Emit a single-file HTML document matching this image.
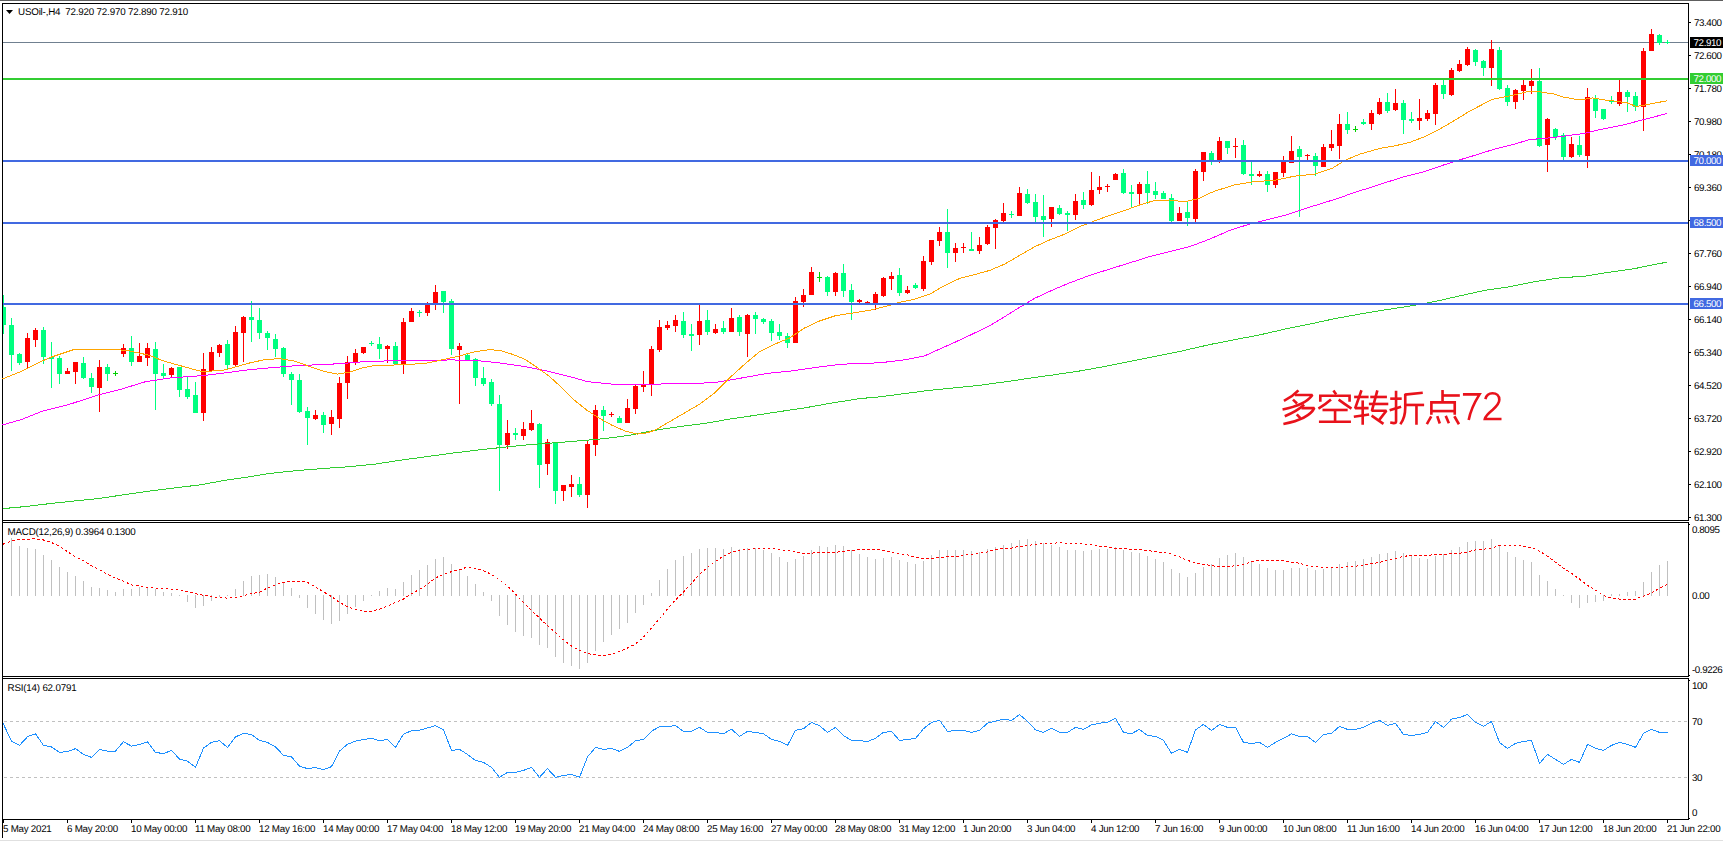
<!DOCTYPE html>
<html><head><meta charset="utf-8"><title>USOil H4</title>
<style>
html,body{margin:0;padding:0;background:#fff;}
body{width:1723px;height:841px;position:relative;overflow:hidden;font-family:"Liberation Sans",sans-serif;text-rendering:geometricPrecision;}
.t{position:absolute;font-size:9.8px;line-height:12px;height:12px;white-space:nowrap;color:#000;letter-spacing:-0.42px;}
.w{letter-spacing:-0.2px}.tm{letter-spacing:-0.27px}
.b{position:absolute;left:1690px;width:33px;height:10px;font-size:9.8px;line-height:10.5px;letter-spacing:-0.42px;text-indent:3.6px;white-space:nowrap;overflow:hidden;}
</style></head><body>
<svg width="1723" height="841" viewBox="0 0 1723 841" shape-rendering="crispEdges" style="position:absolute;left:0;top:0"><rect x="0" y="0" width="1723" height="1" fill="#5e5e5e"/>
<rect x="0" y="840" width="1723" height="1" fill="#e0e0e0"/>
<rect x="2" y="3" width="1687" height="1" fill="#000"/>
<rect x="2" y="3" width="1" height="835" fill="#000"/>
<rect x="2" y="520" width="1687" height="1" fill="#000"/>
<rect x="2" y="522" width="1687" height="1" fill="#000"/>
<rect x="2" y="676" width="1687" height="1" fill="#000"/>
<rect x="2" y="678" width="1687" height="1" fill="#000"/>
<rect x="2" y="819" width="1687" height="1" fill="#000"/>
<rect x="1688" y="3" width="1" height="518" fill="#000"/>
<rect x="1688" y="522" width="1" height="155" fill="#000"/>
<rect x="1688" y="678" width="1" height="142" fill="#000"/>
<rect x="3" y="42" width="1685" height="1" fill="#708090"/>
<rect x="3" y="295" width="1" height="39" fill="#00ff7f"/>
<rect x="3" y="307" width="3" height="18" fill="#00ff7f"/>
<rect x="11" y="318" width="1" height="53" fill="#00ff7f"/>
<rect x="9" y="325" width="5" height="30" fill="#00ff7f"/>
<rect x="19" y="353" width="1" height="12" fill="#00ff7f"/>
<rect x="17" y="354" width="5" height="9" fill="#00ff7f"/>
<rect x="27" y="333" width="1" height="35" fill="#ff0000"/>
<rect x="25" y="338" width="5" height="24" fill="#ff0000"/>
<rect x="35" y="328" width="1" height="19" fill="#ff0000"/>
<rect x="33" y="330" width="5" height="10" fill="#ff0000"/>
<rect x="43" y="327" width="1" height="37" fill="#00ff7f"/>
<rect x="41" y="330" width="5" height="27" fill="#00ff7f"/>
<rect x="51" y="342" width="1" height="46" fill="#00ff7f"/>
<rect x="49" y="357" width="5" height="2" fill="#00ff7f"/>
<rect x="59" y="356" width="1" height="28" fill="#00ff7f"/>
<rect x="57" y="358" width="5" height="16" fill="#00ff7f"/>
<rect x="67" y="368" width="1" height="6" fill="#ff0000"/>
<rect x="65" y="371" width="5" height="3" fill="#ff0000"/>
<rect x="75" y="362" width="1" height="22" fill="#ff0000"/>
<rect x="73" y="362" width="5" height="10" fill="#ff0000"/>
<rect x="83" y="357" width="1" height="22" fill="#00ff7f"/>
<rect x="81" y="363" width="5" height="15" fill="#00ff7f"/>
<rect x="91" y="373" width="1" height="20" fill="#00ff7f"/>
<rect x="89" y="378" width="5" height="9" fill="#00ff7f"/>
<rect x="99" y="360" width="1" height="52" fill="#ff0000"/>
<rect x="97" y="367" width="5" height="21" fill="#ff0000"/>
<rect x="107" y="364" width="1" height="17" fill="#00ff7f"/>
<rect x="105" y="367" width="5" height="7" fill="#00ff7f"/>
<rect x="115" y="371" width="1" height="5" fill="#00d000"/>
<rect x="113" y="373" width="5" height="1" fill="#00d000"/>
<rect x="123" y="344" width="1" height="13" fill="#ff0000"/>
<rect x="121" y="348" width="5" height="6" fill="#ff0000"/>
<rect x="131" y="336" width="1" height="30" fill="#00ff7f"/>
<rect x="129" y="348" width="5" height="14" fill="#00ff7f"/>
<rect x="139" y="343" width="1" height="19" fill="#ff0000"/>
<rect x="137" y="356" width="5" height="6" fill="#ff0000"/>
<rect x="147" y="343" width="1" height="23" fill="#ff0000"/>
<rect x="145" y="348" width="5" height="10" fill="#ff0000"/>
<rect x="155" y="342" width="1" height="68" fill="#00ff7f"/>
<rect x="153" y="349" width="5" height="25" fill="#00ff7f"/>
<rect x="163" y="364" width="1" height="14" fill="#00ff7f"/>
<rect x="161" y="373" width="5" height="3" fill="#00ff7f"/>
<rect x="171" y="367" width="1" height="10" fill="#ff0000"/>
<rect x="169" y="368" width="5" height="7" fill="#ff0000"/>
<rect x="179" y="367" width="1" height="30" fill="#00ff7f"/>
<rect x="177" y="367" width="5" height="23" fill="#00ff7f"/>
<rect x="187" y="377" width="1" height="22" fill="#00ff7f"/>
<rect x="185" y="389" width="5" height="8" fill="#00ff7f"/>
<rect x="195" y="382" width="1" height="31" fill="#00ff7f"/>
<rect x="193" y="395" width="5" height="18" fill="#00ff7f"/>
<rect x="203" y="353" width="1" height="68" fill="#ff0000"/>
<rect x="201" y="369" width="5" height="44" fill="#ff0000"/>
<rect x="211" y="347" width="1" height="25" fill="#ff0000"/>
<rect x="209" y="352" width="5" height="19" fill="#ff0000"/>
<rect x="219" y="344" width="1" height="13" fill="#ff0000"/>
<rect x="217" y="345" width="5" height="8" fill="#ff0000"/>
<rect x="227" y="340" width="1" height="29" fill="#00ff7f"/>
<rect x="225" y="344" width="5" height="21" fill="#00ff7f"/>
<rect x="235" y="326" width="1" height="40" fill="#ff0000"/>
<rect x="233" y="332" width="5" height="33" fill="#ff0000"/>
<rect x="243" y="316" width="1" height="46" fill="#ff0000"/>
<rect x="241" y="317" width="5" height="16" fill="#ff0000"/>
<rect x="251" y="301" width="1" height="41" fill="#00ff7f"/>
<rect x="249" y="317" width="5" height="3" fill="#00ff7f"/>
<rect x="259" y="308" width="1" height="31" fill="#00ff7f"/>
<rect x="257" y="320" width="5" height="13" fill="#00ff7f"/>
<rect x="267" y="331" width="1" height="19" fill="#00ff7f"/>
<rect x="265" y="333" width="5" height="5" fill="#00ff7f"/>
<rect x="275" y="334" width="1" height="23" fill="#00ff7f"/>
<rect x="273" y="339" width="5" height="10" fill="#00ff7f"/>
<rect x="283" y="347" width="1" height="30" fill="#00ff7f"/>
<rect x="281" y="348" width="5" height="26" fill="#00ff7f"/>
<rect x="291" y="372" width="1" height="33" fill="#00ff7f"/>
<rect x="289" y="374" width="5" height="6" fill="#00ff7f"/>
<rect x="299" y="374" width="1" height="39" fill="#00ff7f"/>
<rect x="297" y="380" width="5" height="32" fill="#00ff7f"/>
<rect x="307" y="407" width="1" height="38" fill="#00ff7f"/>
<rect x="305" y="411" width="5" height="7" fill="#00ff7f"/>
<rect x="315" y="410" width="1" height="10" fill="#ff0000"/>
<rect x="313" y="415" width="5" height="4" fill="#ff0000"/>
<rect x="323" y="412" width="1" height="21" fill="#00ff7f"/>
<rect x="321" y="415" width="5" height="10" fill="#00ff7f"/>
<rect x="331" y="410" width="1" height="25" fill="#ff0000"/>
<rect x="329" y="417" width="5" height="7" fill="#ff0000"/>
<rect x="339" y="377" width="1" height="51" fill="#ff0000"/>
<rect x="337" y="383" width="5" height="36" fill="#ff0000"/>
<rect x="347" y="356" width="1" height="43" fill="#ff0000"/>
<rect x="345" y="362" width="5" height="21" fill="#ff0000"/>
<rect x="355" y="349" width="1" height="16" fill="#ff0000"/>
<rect x="353" y="353" width="5" height="9" fill="#ff0000"/>
<rect x="363" y="347" width="1" height="7" fill="#ff0000"/>
<rect x="361" y="347" width="5" height="6" fill="#ff0000"/>
<rect x="371" y="341" width="1" height="5" fill="#00ff7f"/>
<rect x="369" y="343" width="5" height="1" fill="#00ff7f"/>
<rect x="379" y="337" width="1" height="22" fill="#00ff7f"/>
<rect x="377" y="344" width="5" height="5" fill="#00ff7f"/>
<rect x="387" y="345" width="1" height="18" fill="#ff0000"/>
<rect x="385" y="346" width="5" height="3" fill="#ff0000"/>
<rect x="395" y="342" width="1" height="23" fill="#00ff7f"/>
<rect x="393" y="346" width="5" height="18" fill="#00ff7f"/>
<rect x="403" y="318" width="1" height="56" fill="#ff0000"/>
<rect x="401" y="322" width="5" height="42" fill="#ff0000"/>
<rect x="411" y="308" width="1" height="14" fill="#ff0000"/>
<rect x="409" y="311" width="5" height="11" fill="#ff0000"/>
<rect x="419" y="310" width="1" height="7" fill="#00ff7f"/>
<rect x="417" y="312" width="5" height="1" fill="#00ff7f"/>
<rect x="427" y="302" width="1" height="14" fill="#ff0000"/>
<rect x="425" y="305" width="5" height="8" fill="#ff0000"/>
<rect x="435" y="285" width="1" height="25" fill="#ff0000"/>
<rect x="433" y="292" width="5" height="11" fill="#ff0000"/>
<rect x="443" y="291" width="1" height="22" fill="#00ff7f"/>
<rect x="441" y="291" width="5" height="11" fill="#00ff7f"/>
<rect x="451" y="299" width="1" height="56" fill="#00ff7f"/>
<rect x="449" y="301" width="5" height="48" fill="#00ff7f"/>
<rect x="459" y="343" width="1" height="61" fill="#ff0000"/>
<rect x="457" y="346" width="5" height="4" fill="#ff0000"/>
<rect x="467" y="354" width="1" height="7" fill="#00ff7f"/>
<rect x="465" y="355" width="5" height="6" fill="#00ff7f"/>
<rect x="475" y="358" width="1" height="28" fill="#00ff7f"/>
<rect x="473" y="359" width="5" height="19" fill="#00ff7f"/>
<rect x="483" y="367" width="1" height="19" fill="#00ff7f"/>
<rect x="481" y="378" width="5" height="6" fill="#00ff7f"/>
<rect x="491" y="379" width="1" height="27" fill="#00ff7f"/>
<rect x="489" y="382" width="5" height="22" fill="#00ff7f"/>
<rect x="499" y="395" width="1" height="96" fill="#00ff7f"/>
<rect x="497" y="404" width="5" height="41" fill="#00ff7f"/>
<rect x="507" y="420" width="1" height="29" fill="#ff0000"/>
<rect x="505" y="433" width="5" height="12" fill="#ff0000"/>
<rect x="515" y="428" width="1" height="12" fill="#00ff7f"/>
<rect x="513" y="433" width="5" height="2" fill="#00ff7f"/>
<rect x="523" y="422" width="1" height="18" fill="#ff0000"/>
<rect x="521" y="429" width="5" height="7" fill="#ff0000"/>
<rect x="531" y="410" width="1" height="21" fill="#ff0000"/>
<rect x="529" y="423" width="5" height="7" fill="#ff0000"/>
<rect x="539" y="423" width="1" height="65" fill="#00ff7f"/>
<rect x="537" y="424" width="5" height="41" fill="#00ff7f"/>
<rect x="547" y="439" width="1" height="36" fill="#ff0000"/>
<rect x="545" y="442" width="5" height="22" fill="#ff0000"/>
<rect x="555" y="442" width="1" height="62" fill="#00ff7f"/>
<rect x="553" y="442" width="5" height="49" fill="#00ff7f"/>
<rect x="563" y="485" width="1" height="16" fill="#ff0000"/>
<rect x="561" y="485" width="5" height="6" fill="#ff0000"/>
<rect x="571" y="475" width="1" height="22" fill="#ff0000"/>
<rect x="569" y="484" width="5" height="3" fill="#ff0000"/>
<rect x="579" y="477" width="1" height="20" fill="#00ff7f"/>
<rect x="577" y="484" width="5" height="11" fill="#00ff7f"/>
<rect x="587" y="441" width="1" height="67" fill="#ff0000"/>
<rect x="585" y="444" width="5" height="51" fill="#ff0000"/>
<rect x="595" y="405" width="1" height="51" fill="#ff0000"/>
<rect x="593" y="410" width="5" height="35" fill="#ff0000"/>
<rect x="603" y="406" width="1" height="25" fill="#00ff7f"/>
<rect x="601" y="410" width="5" height="6" fill="#00ff7f"/>
<rect x="611" y="412" width="1" height="5" fill="#ff0000"/>
<rect x="609" y="414" width="5" height="1" fill="#ff0000"/>
<rect x="619" y="416" width="1" height="7" fill="#00ff7f"/>
<rect x="617" y="418" width="5" height="5" fill="#00ff7f"/>
<rect x="627" y="399" width="1" height="24" fill="#ff0000"/>
<rect x="625" y="408" width="5" height="15" fill="#ff0000"/>
<rect x="635" y="385" width="1" height="29" fill="#ff0000"/>
<rect x="633" y="386" width="5" height="23" fill="#ff0000"/>
<rect x="643" y="371" width="1" height="21" fill="#ff0000"/>
<rect x="641" y="384" width="5" height="3" fill="#ff0000"/>
<rect x="651" y="346" width="1" height="50" fill="#ff0000"/>
<rect x="649" y="349" width="5" height="36" fill="#ff0000"/>
<rect x="659" y="320" width="1" height="32" fill="#ff0000"/>
<rect x="657" y="327" width="5" height="23" fill="#ff0000"/>
<rect x="667" y="321" width="1" height="9" fill="#ff0000"/>
<rect x="665" y="325" width="5" height="3" fill="#ff0000"/>
<rect x="675" y="315" width="1" height="17" fill="#ff0000"/>
<rect x="673" y="320" width="5" height="6" fill="#ff0000"/>
<rect x="683" y="312" width="1" height="26" fill="#00ff7f"/>
<rect x="681" y="321" width="5" height="14" fill="#00ff7f"/>
<rect x="691" y="324" width="1" height="27" fill="#00ff7f"/>
<rect x="689" y="334" width="5" height="2" fill="#00ff7f"/>
<rect x="699" y="304" width="1" height="41" fill="#ff0000"/>
<rect x="697" y="321" width="5" height="14" fill="#ff0000"/>
<rect x="707" y="310" width="1" height="25" fill="#00ff7f"/>
<rect x="705" y="320" width="5" height="12" fill="#00ff7f"/>
<rect x="715" y="324" width="1" height="10" fill="#ff0000"/>
<rect x="713" y="329" width="5" height="4" fill="#ff0000"/>
<rect x="723" y="321" width="1" height="13" fill="#00ff7f"/>
<rect x="721" y="328" width="5" height="4" fill="#00ff7f"/>
<rect x="731" y="308" width="1" height="24" fill="#ff0000"/>
<rect x="729" y="318" width="5" height="14" fill="#ff0000"/>
<rect x="739" y="315" width="1" height="21" fill="#00ff7f"/>
<rect x="737" y="317" width="5" height="15" fill="#00ff7f"/>
<rect x="747" y="314" width="1" height="43" fill="#ff0000"/>
<rect x="745" y="315" width="5" height="19" fill="#ff0000"/>
<rect x="755" y="312" width="1" height="22" fill="#00ff7f"/>
<rect x="753" y="315" width="5" height="4" fill="#00ff7f"/>
<rect x="763" y="318" width="1" height="6" fill="#00ff7f"/>
<rect x="761" y="319" width="5" height="3" fill="#00ff7f"/>
<rect x="771" y="319" width="1" height="22" fill="#00ff7f"/>
<rect x="769" y="321" width="5" height="12" fill="#00ff7f"/>
<rect x="779" y="324" width="1" height="16" fill="#00ff7f"/>
<rect x="777" y="332" width="5" height="4" fill="#00ff7f"/>
<rect x="787" y="333" width="1" height="15" fill="#00ff7f"/>
<rect x="785" y="336" width="5" height="7" fill="#00ff7f"/>
<rect x="795" y="297" width="1" height="46" fill="#ff0000"/>
<rect x="793" y="301" width="5" height="42" fill="#ff0000"/>
<rect x="803" y="289" width="1" height="18" fill="#ff0000"/>
<rect x="801" y="295" width="5" height="7" fill="#ff0000"/>
<rect x="811" y="267" width="1" height="28" fill="#ff0000"/>
<rect x="809" y="272" width="5" height="23" fill="#ff0000"/>
<rect x="819" y="272" width="1" height="10" fill="#00d000"/>
<rect x="817" y="277" width="5" height="1" fill="#00d000"/>
<rect x="827" y="276" width="1" height="20" fill="#00ff7f"/>
<rect x="825" y="277" width="5" height="15" fill="#00ff7f"/>
<rect x="835" y="272" width="1" height="24" fill="#ff0000"/>
<rect x="833" y="273" width="5" height="19" fill="#ff0000"/>
<rect x="843" y="264" width="1" height="33" fill="#00ff7f"/>
<rect x="841" y="273" width="5" height="18" fill="#00ff7f"/>
<rect x="851" y="284" width="1" height="36" fill="#00ff7f"/>
<rect x="849" y="290" width="5" height="12" fill="#00ff7f"/>
<rect x="859" y="299" width="1" height="4" fill="#ff0000"/>
<rect x="857" y="300" width="5" height="2" fill="#ff0000"/>
<rect x="867" y="301" width="1" height="2" fill="#ff0000"/>
<rect x="865" y="302" width="5" height="1" fill="#ff0000"/>
<rect x="875" y="292" width="1" height="18" fill="#ff0000"/>
<rect x="873" y="294" width="5" height="10" fill="#ff0000"/>
<rect x="883" y="277" width="1" height="20" fill="#ff0000"/>
<rect x="881" y="278" width="5" height="18" fill="#ff0000"/>
<rect x="891" y="272" width="1" height="18" fill="#ff0000"/>
<rect x="889" y="276" width="5" height="3" fill="#ff0000"/>
<rect x="899" y="268" width="1" height="28" fill="#00ff7f"/>
<rect x="897" y="275" width="5" height="18" fill="#00ff7f"/>
<rect x="907" y="286" width="1" height="8" fill="#ff0000"/>
<rect x="905" y="290" width="5" height="3" fill="#ff0000"/>
<rect x="915" y="283" width="1" height="6" fill="#00ff7f"/>
<rect x="913" y="285" width="5" height="3" fill="#00ff7f"/>
<rect x="923" y="256" width="1" height="35" fill="#ff0000"/>
<rect x="921" y="261" width="5" height="28" fill="#ff0000"/>
<rect x="931" y="240" width="1" height="25" fill="#ff0000"/>
<rect x="929" y="240" width="5" height="22" fill="#ff0000"/>
<rect x="939" y="227" width="1" height="19" fill="#ff0000"/>
<rect x="937" y="232" width="5" height="9" fill="#ff0000"/>
<rect x="947" y="209" width="1" height="59" fill="#00ff7f"/>
<rect x="945" y="232" width="5" height="21" fill="#00ff7f"/>
<rect x="955" y="243" width="1" height="19" fill="#ff0000"/>
<rect x="953" y="248" width="5" height="5" fill="#ff0000"/>
<rect x="963" y="243" width="1" height="10" fill="#ff0000"/>
<rect x="961" y="247" width="5" height="1" fill="#ff0000"/>
<rect x="971" y="232" width="1" height="19" fill="#00ff7f"/>
<rect x="969" y="249" width="5" height="2" fill="#00ff7f"/>
<rect x="979" y="237" width="1" height="17" fill="#ff0000"/>
<rect x="977" y="245" width="5" height="6" fill="#ff0000"/>
<rect x="987" y="225" width="1" height="20" fill="#ff0000"/>
<rect x="985" y="227" width="5" height="17" fill="#ff0000"/>
<rect x="995" y="219" width="1" height="30" fill="#ff0000"/>
<rect x="993" y="220" width="5" height="8" fill="#ff0000"/>
<rect x="1003" y="203" width="1" height="19" fill="#ff0000"/>
<rect x="1001" y="213" width="5" height="8" fill="#ff0000"/>
<rect x="1011" y="211" width="1" height="7" fill="#00ff7f"/>
<rect x="1009" y="214" width="5" height="1" fill="#00ff7f"/>
<rect x="1019" y="187" width="1" height="29" fill="#ff0000"/>
<rect x="1017" y="193" width="5" height="23" fill="#ff0000"/>
<rect x="1027" y="189" width="1" height="15" fill="#00ff7f"/>
<rect x="1025" y="194" width="5" height="9" fill="#00ff7f"/>
<rect x="1035" y="194" width="1" height="28" fill="#00ff7f"/>
<rect x="1033" y="202" width="5" height="15" fill="#00ff7f"/>
<rect x="1043" y="195" width="1" height="42" fill="#00ff7f"/>
<rect x="1041" y="216" width="5" height="4" fill="#00ff7f"/>
<rect x="1051" y="207" width="1" height="20" fill="#ff0000"/>
<rect x="1049" y="207" width="5" height="12" fill="#ff0000"/>
<rect x="1059" y="205" width="1" height="10" fill="#00ff7f"/>
<rect x="1057" y="208" width="5" height="6" fill="#00ff7f"/>
<rect x="1067" y="211" width="1" height="20" fill="#00ff7f"/>
<rect x="1065" y="213" width="5" height="2" fill="#00ff7f"/>
<rect x="1075" y="194" width="1" height="26" fill="#ff0000"/>
<rect x="1073" y="201" width="5" height="14" fill="#ff0000"/>
<rect x="1083" y="192" width="1" height="17" fill="#00ff7f"/>
<rect x="1081" y="200" width="5" height="5" fill="#00ff7f"/>
<rect x="1091" y="172" width="1" height="34" fill="#ff0000"/>
<rect x="1089" y="190" width="5" height="15" fill="#ff0000"/>
<rect x="1099" y="176" width="1" height="18" fill="#ff0000"/>
<rect x="1097" y="187" width="5" height="3" fill="#ff0000"/>
<rect x="1107" y="184" width="1" height="8" fill="#ff0000"/>
<rect x="1105" y="186" width="5" height="1" fill="#ff0000"/>
<rect x="1115" y="173" width="1" height="7" fill="#ff0000"/>
<rect x="1113" y="174" width="5" height="6" fill="#ff0000"/>
<rect x="1123" y="169" width="1" height="25" fill="#00ff7f"/>
<rect x="1121" y="173" width="5" height="20" fill="#00ff7f"/>
<rect x="1131" y="185" width="1" height="22" fill="#00ff7f"/>
<rect x="1129" y="192" width="5" height="2" fill="#00ff7f"/>
<rect x="1139" y="182" width="1" height="22" fill="#ff0000"/>
<rect x="1137" y="184" width="5" height="10" fill="#ff0000"/>
<rect x="1147" y="171" width="1" height="33" fill="#00ff7f"/>
<rect x="1145" y="184" width="5" height="9" fill="#00ff7f"/>
<rect x="1155" y="182" width="1" height="17" fill="#00ff7f"/>
<rect x="1153" y="191" width="5" height="4" fill="#00ff7f"/>
<rect x="1163" y="191" width="1" height="8" fill="#00ff7f"/>
<rect x="1161" y="193" width="5" height="6" fill="#00ff7f"/>
<rect x="1171" y="194" width="1" height="28" fill="#00ff7f"/>
<rect x="1169" y="198" width="5" height="23" fill="#00ff7f"/>
<rect x="1179" y="207" width="1" height="14" fill="#ff0000"/>
<rect x="1177" y="213" width="5" height="8" fill="#ff0000"/>
<rect x="1187" y="202" width="1" height="24" fill="#00ff7f"/>
<rect x="1185" y="212" width="5" height="6" fill="#00ff7f"/>
<rect x="1195" y="169" width="1" height="53" fill="#ff0000"/>
<rect x="1193" y="171" width="5" height="48" fill="#ff0000"/>
<rect x="1203" y="152" width="1" height="29" fill="#ff0000"/>
<rect x="1201" y="152" width="5" height="20" fill="#ff0000"/>
<rect x="1211" y="151" width="1" height="14" fill="#00ff7f"/>
<rect x="1209" y="153" width="5" height="9" fill="#00ff7f"/>
<rect x="1219" y="137" width="1" height="26" fill="#ff0000"/>
<rect x="1217" y="141" width="5" height="20" fill="#ff0000"/>
<rect x="1227" y="141" width="1" height="13" fill="#00ff7f"/>
<rect x="1225" y="141" width="5" height="7" fill="#00ff7f"/>
<rect x="1235" y="138" width="1" height="20" fill="#ff0000"/>
<rect x="1233" y="146" width="5" height="1" fill="#ff0000"/>
<rect x="1243" y="140" width="1" height="35" fill="#00ff7f"/>
<rect x="1241" y="145" width="5" height="29" fill="#00ff7f"/>
<rect x="1251" y="162" width="1" height="23" fill="#00ff7f"/>
<rect x="1249" y="174" width="5" height="2" fill="#00ff7f"/>
<rect x="1259" y="171" width="1" height="6" fill="#ff0000"/>
<rect x="1257" y="174" width="5" height="2" fill="#ff0000"/>
<rect x="1267" y="171" width="1" height="21" fill="#00ff7f"/>
<rect x="1265" y="174" width="5" height="11" fill="#00ff7f"/>
<rect x="1275" y="172" width="1" height="16" fill="#ff0000"/>
<rect x="1273" y="172" width="5" height="13" fill="#ff0000"/>
<rect x="1283" y="156" width="1" height="21" fill="#ff0000"/>
<rect x="1281" y="162" width="5" height="11" fill="#ff0000"/>
<rect x="1291" y="136" width="1" height="27" fill="#ff0000"/>
<rect x="1289" y="151" width="5" height="12" fill="#ff0000"/>
<rect x="1299" y="146" width="1" height="71" fill="#00ff7f"/>
<rect x="1297" y="149" width="5" height="8" fill="#00ff7f"/>
<rect x="1307" y="154" width="1" height="6" fill="#ff0000"/>
<rect x="1305" y="155" width="5" height="1" fill="#ff0000"/>
<rect x="1315" y="153" width="1" height="23" fill="#00ff7f"/>
<rect x="1313" y="156" width="5" height="10" fill="#00ff7f"/>
<rect x="1323" y="144" width="1" height="23" fill="#ff0000"/>
<rect x="1321" y="147" width="5" height="20" fill="#ff0000"/>
<rect x="1331" y="130" width="1" height="21" fill="#ff0000"/>
<rect x="1329" y="144" width="5" height="4" fill="#ff0000"/>
<rect x="1339" y="114" width="1" height="45" fill="#ff0000"/>
<rect x="1337" y="124" width="5" height="22" fill="#ff0000"/>
<rect x="1347" y="112" width="1" height="22" fill="#00ff7f"/>
<rect x="1345" y="124" width="5" height="6" fill="#00ff7f"/>
<rect x="1355" y="126" width="1" height="6" fill="#00d000"/>
<rect x="1353" y="129" width="5" height="1" fill="#00d000"/>
<rect x="1363" y="119" width="1" height="6" fill="#00ff7f"/>
<rect x="1361" y="122" width="5" height="2" fill="#00ff7f"/>
<rect x="1371" y="110" width="1" height="20" fill="#ff0000"/>
<rect x="1369" y="113" width="5" height="11" fill="#ff0000"/>
<rect x="1379" y="98" width="1" height="17" fill="#ff0000"/>
<rect x="1377" y="102" width="5" height="12" fill="#ff0000"/>
<rect x="1387" y="93" width="1" height="20" fill="#00ff7f"/>
<rect x="1385" y="102" width="5" height="9" fill="#00ff7f"/>
<rect x="1395" y="89" width="1" height="22" fill="#ff0000"/>
<rect x="1393" y="103" width="5" height="7" fill="#ff0000"/>
<rect x="1403" y="100" width="1" height="34" fill="#00ff7f"/>
<rect x="1401" y="103" width="5" height="17" fill="#00ff7f"/>
<rect x="1411" y="112" width="1" height="11" fill="#00ff7f"/>
<rect x="1409" y="119" width="5" height="2" fill="#00ff7f"/>
<rect x="1419" y="99" width="1" height="31" fill="#ff0000"/>
<rect x="1417" y="118" width="5" height="3" fill="#ff0000"/>
<rect x="1427" y="110" width="1" height="11" fill="#ff0000"/>
<rect x="1425" y="113" width="5" height="6" fill="#ff0000"/>
<rect x="1435" y="83" width="1" height="42" fill="#ff0000"/>
<rect x="1433" y="85" width="5" height="29" fill="#ff0000"/>
<rect x="1443" y="79" width="1" height="20" fill="#00ff7f"/>
<rect x="1441" y="85" width="5" height="9" fill="#00ff7f"/>
<rect x="1451" y="68" width="1" height="28" fill="#ff0000"/>
<rect x="1449" y="70" width="5" height="25" fill="#ff0000"/>
<rect x="1459" y="60" width="1" height="12" fill="#ff0000"/>
<rect x="1457" y="64" width="5" height="7" fill="#ff0000"/>
<rect x="1467" y="47" width="1" height="19" fill="#ff0000"/>
<rect x="1465" y="49" width="5" height="16" fill="#ff0000"/>
<rect x="1475" y="49" width="1" height="17" fill="#00ff7f"/>
<rect x="1473" y="50" width="5" height="12" fill="#00ff7f"/>
<rect x="1483" y="60" width="1" height="16" fill="#00ff7f"/>
<rect x="1481" y="61" width="5" height="7" fill="#00ff7f"/>
<rect x="1491" y="40" width="1" height="46" fill="#ff0000"/>
<rect x="1489" y="49" width="5" height="19" fill="#ff0000"/>
<rect x="1499" y="47" width="1" height="43" fill="#00ff7f"/>
<rect x="1497" y="50" width="5" height="39" fill="#00ff7f"/>
<rect x="1507" y="85" width="1" height="21" fill="#00ff7f"/>
<rect x="1505" y="88" width="5" height="14" fill="#00ff7f"/>
<rect x="1515" y="89" width="1" height="20" fill="#ff0000"/>
<rect x="1513" y="90" width="5" height="12" fill="#ff0000"/>
<rect x="1523" y="79" width="1" height="21" fill="#ff0000"/>
<rect x="1521" y="85" width="5" height="6" fill="#ff0000"/>
<rect x="1531" y="69" width="1" height="25" fill="#ff0000"/>
<rect x="1529" y="81" width="5" height="5" fill="#ff0000"/>
<rect x="1539" y="68" width="1" height="79" fill="#00ff7f"/>
<rect x="1537" y="81" width="5" height="65" fill="#00ff7f"/>
<rect x="1547" y="118" width="1" height="54" fill="#ff0000"/>
<rect x="1545" y="119" width="5" height="26" fill="#ff0000"/>
<rect x="1555" y="128" width="1" height="12" fill="#00ff7f"/>
<rect x="1553" y="129" width="5" height="8" fill="#00ff7f"/>
<rect x="1563" y="133" width="1" height="28" fill="#00ff7f"/>
<rect x="1561" y="135" width="5" height="22" fill="#00ff7f"/>
<rect x="1571" y="137" width="1" height="21" fill="#ff0000"/>
<rect x="1569" y="144" width="5" height="13" fill="#ff0000"/>
<rect x="1579" y="136" width="1" height="21" fill="#00ff7f"/>
<rect x="1577" y="145" width="5" height="10" fill="#00ff7f"/>
<rect x="1587" y="88" width="1" height="80" fill="#ff0000"/>
<rect x="1585" y="97" width="5" height="59" fill="#ff0000"/>
<rect x="1595" y="95" width="1" height="23" fill="#00ff7f"/>
<rect x="1593" y="98" width="5" height="13" fill="#00ff7f"/>
<rect x="1603" y="109" width="1" height="11" fill="#00ff7f"/>
<rect x="1601" y="109" width="5" height="10" fill="#00ff7f"/>
<rect x="1611" y="96" width="1" height="8" fill="#00ff7f"/>
<rect x="1609" y="100" width="5" height="2" fill="#00ff7f"/>
<rect x="1619" y="80" width="1" height="26" fill="#ff0000"/>
<rect x="1617" y="92" width="5" height="12" fill="#ff0000"/>
<rect x="1627" y="90" width="1" height="22" fill="#00ff7f"/>
<rect x="1625" y="92" width="5" height="5" fill="#00ff7f"/>
<rect x="1635" y="92" width="1" height="19" fill="#00ff7f"/>
<rect x="1633" y="96" width="5" height="11" fill="#00ff7f"/>
<rect x="1643" y="48" width="1" height="83" fill="#ff0000"/>
<rect x="1641" y="51" width="5" height="56" fill="#ff0000"/>
<rect x="1651" y="29" width="1" height="22" fill="#ff0000"/>
<rect x="1649" y="34" width="5" height="17" fill="#ff0000"/>
<rect x="1659" y="34" width="1" height="11" fill="#00ff7f"/>
<rect x="1657" y="35" width="5" height="8" fill="#00ff7f"/>
<rect x="1667" y="40" width="1" height="4" fill="#00ff7f"/>
<rect x="1665" y="42" width="5" height="1" fill="#00ff7f"/>
<polyline points="3.0,508.6 25.0,506.6 49.9,503.6 74.9,500.9 99.8,498.4 124.8,494.6 149.7,491.1 174.7,487.9 199.7,484.9 224.6,480.4 249.6,476.7 264.5,474.2 274.5,472.9 299.5,470.4 324.4,468.4 349.4,466.7 374.3,464.2 399.3,460.4 429.7,456.2 455.0,452.8 479.9,449.8 504.9,447.1 529.9,444.6 554.8,442.8 579.8,440.8 604.8,438.6 629.8,435.3 654.7,430.3 679.7,426.6 704.7,423.4 729.6,419.1 754.6,415.4 779.6,411.6 804.5,407.9 829.5,403.4 860.0,398.6 879.9,396.8 929.9,390.3 979.8,385.3 1014.7,380.5 1029.7,378.2 1054.7,374.7 1079.6,371.0 1104.6,366.5 1129.6,361.5 1154.5,356.5 1179.5,351.5 1210.0,344.5 1260.0,334.8 1285.0,329.1 1309.9,324.1 1334.9,318.6 1359.8,314.1 1384.8,309.9 1409.7,306.1 1434.7,301.6 1459.7,295.9 1484.6,290.4 1509.6,286.7 1534.5,281.7 1559.5,277.9 1584.4,276.2 1609.4,272.2 1634.3,268.7 1649.3,265.5 1666.8,262.2" fill="none" stroke="#32cd32" stroke-width="1" />
<polyline points="2.6,424.9 21.4,419.6 42.8,411.0 68.5,404.6 98.4,395.0 119.8,389.6 145.5,381.7 171.2,377.8 192.6,376.3 205.0,375.4 225.0,372.9 249.9,369.6 274.9,367.4 299.9,365.4 324.8,364.6 349.8,362.9 369.8,361.1 399.8,360.9 424.7,360.9 449.7,359.9 474.7,360.4 499.6,362.9 524.6,366.6 549.6,371.6 574.5,377.9 587.0,381.6 599.5,382.9 612.0,384.1 630.0,384.9 642.2,384.9 667.2,383.7 692.2,383.7 717.1,382.2 742.1,377.9 767.1,373.4 792.0,370.9 817.0,367.2 842.0,364.2 879.9,362.8 904.8,359.8 924.8,355.8 939.8,349.0 954.8,342.3 969.8,335.3 989.7,325.8 1004.7,316.6 1019.7,307.3 1034.7,298.3 1054.7,289.1 1069.6,282.9 1089.6,275.4 1109.6,269.1 1129.6,262.9 1149.5,256.6 1169.5,251.6 1190.0,246.5 1210.0,239.0 1229.9,230.3 1249.9,224.0 1269.9,219.0 1284.9,215.3 1299.8,210.3 1319.8,204.0 1339.8,197.8 1354.8,192.3 1369.8,187.8 1384.7,182.8 1404.7,176.6 1424.7,171.6 1444.7,164.6 1459.6,159.9 1474.6,155.4 1494.6,149.1 1514.6,144.1 1529.6,139.6 1549.5,137.9 1569.5,135.4 1584.5,133.4 1600.0,129.6 1621.0,125.5 1643.5,119.7 1667.0,113.5" fill="none" stroke="#ff00ff" stroke-width="1" />
<polyline points="2.6,378.9 21.4,371.4 42.8,360.7 51.3,357.1 73.8,349.6 94.1,349.0 111.3,349.0 128.4,350.7 149.8,355.4 162.6,360.7 181.9,366.1 201.1,371.4 205.0,371.6 225.0,369.9 249.9,362.9 264.9,359.6 279.9,358.6 294.9,361.1 309.9,366.6 324.8,371.6 337.3,374.1 349.8,372.1 362.3,367.9 374.8,365.4 399.8,364.9 424.7,363.4 439.7,360.4 459.7,355.9 474.7,351.7 489.6,349.7 499.6,350.4 512.1,354.2 524.6,359.1 537.1,367.4 549.6,376.6 562.0,387.9 574.5,400.3 587.0,410.3 599.5,418.3 612.0,425.3 624.5,430.8 629.8,432.1 637.2,434.1 647.2,432.8 654.7,430.3 669.7,421.6 684.7,412.9 699.7,404.1 714.6,392.9 729.6,377.9 744.6,364.2 759.6,351.7 774.6,344.2 789.6,338.0 804.5,328.0 819.5,321.0 834.5,316.0 849.5,313.5 869.9,310.3 884.9,306.6 899.9,302.3 914.8,299.1 929.8,294.1 944.8,285.4 959.8,278.4 974.8,274.6 989.7,270.4 1004.7,264.1 1019.7,255.4 1034.7,246.7 1049.7,239.9 1064.6,234.2 1079.6,226.7 1094.6,220.9 1109.6,215.4 1124.6,210.5 1139.6,205.0 1154.5,200.5 1169.5,200.0 1184.5,201.7 1199.5,198.5 1205.0,195.3 1214.9,191.1 1234.9,184.8 1254.9,181.6 1274.9,180.3 1294.8,176.1 1314.8,174.1 1332.3,168.3 1344.8,160.4 1359.8,154.1 1379.7,148.4 1394.7,145.9 1409.7,142.4 1424.7,136.6 1439.7,129.1 1454.6,120.4 1469.6,111.2 1492.5,99.2 1505.0,96.9 1517.5,94.2 1529.9,91.0 1534.9,91.0 1544.9,92.7 1554.9,94.2 1562.4,96.9 1579.9,100.0 1592.4,97.9 1604.8,100.0 1617.3,101.4 1627.3,102.9 1636.1,106.4 1643.5,105.4 1654.8,103.1 1666.9,100.8" fill="none" stroke="#ffa500" stroke-width="1" />
<rect x="3" y="78" width="1685" height="2" fill="#32cd32"/>
<rect x="3" y="160" width="1685" height="2" fill="#4169e1"/>
<rect x="3" y="222" width="1685" height="2" fill="#4169e1"/>
<rect x="3" y="303" width="1685" height="2" fill="#4169e1"/>
<rect x="11" y="538" width="1" height="58" fill="#c0c0c0"/>
<rect x="19" y="546" width="1" height="50" fill="#c0c0c0"/>
<rect x="27" y="548" width="1" height="48" fill="#c0c0c0"/>
<rect x="35" y="549" width="1" height="47" fill="#c0c0c0"/>
<rect x="43" y="555" width="1" height="41" fill="#c0c0c0"/>
<rect x="51" y="560" width="1" height="36" fill="#c0c0c0"/>
<rect x="59" y="567" width="1" height="29" fill="#c0c0c0"/>
<rect x="67" y="572" width="1" height="24" fill="#c0c0c0"/>
<rect x="75" y="576" width="1" height="20" fill="#c0c0c0"/>
<rect x="83" y="581" width="1" height="15" fill="#c0c0c0"/>
<rect x="91" y="587" width="1" height="9" fill="#c0c0c0"/>
<rect x="99" y="588" width="1" height="8" fill="#c0c0c0"/>
<rect x="107" y="590" width="1" height="6" fill="#c0c0c0"/>
<rect x="115" y="592" width="1" height="4" fill="#c0c0c0"/>
<rect x="123" y="589" width="1" height="7" fill="#c0c0c0"/>
<rect x="131" y="589" width="1" height="7" fill="#c0c0c0"/>
<rect x="139" y="587" width="1" height="9" fill="#c0c0c0"/>
<rect x="147" y="587" width="1" height="9" fill="#c0c0c0"/>
<rect x="155" y="589" width="1" height="7" fill="#c0c0c0"/>
<rect x="163" y="592" width="1" height="4" fill="#c0c0c0"/>
<rect x="171" y="593" width="1" height="3" fill="#c0c0c0"/>
<rect x="179" y="595" width="1" height="1" fill="#c0c0c0"/>
<rect x="187" y="595" width="1" height="7" fill="#c0c0c0"/>
<rect x="195" y="595" width="1" height="13" fill="#c0c0c0"/>
<rect x="203" y="595" width="1" height="11" fill="#c0c0c0"/>
<rect x="211" y="595" width="1" height="6" fill="#c0c0c0"/>
<rect x="219" y="595" width="1" height="2" fill="#c0c0c0"/>
<rect x="227" y="595" width="1" height="1" fill="#c0c0c0"/>
<rect x="235" y="589" width="1" height="7" fill="#c0c0c0"/>
<rect x="243" y="581" width="1" height="15" fill="#c0c0c0"/>
<rect x="251" y="576" width="1" height="20" fill="#c0c0c0"/>
<rect x="259" y="575" width="1" height="21" fill="#c0c0c0"/>
<rect x="267" y="574" width="1" height="22" fill="#c0c0c0"/>
<rect x="275" y="577" width="1" height="19" fill="#c0c0c0"/>
<rect x="283" y="583" width="1" height="13" fill="#c0c0c0"/>
<rect x="291" y="588" width="1" height="8" fill="#c0c0c0"/>
<rect x="299" y="595" width="1" height="3" fill="#c0c0c0"/>
<rect x="307" y="595" width="1" height="13" fill="#c0c0c0"/>
<rect x="315" y="595" width="1" height="19" fill="#c0c0c0"/>
<rect x="323" y="595" width="1" height="25" fill="#c0c0c0"/>
<rect x="331" y="595" width="1" height="29" fill="#c0c0c0"/>
<rect x="339" y="595" width="1" height="26" fill="#c0c0c0"/>
<rect x="347" y="595" width="1" height="19" fill="#c0c0c0"/>
<rect x="355" y="595" width="1" height="12" fill="#c0c0c0"/>
<rect x="363" y="595" width="1" height="6" fill="#c0c0c0"/>
<rect x="371" y="595" width="1" height="1" fill="#c0c0c0"/>
<rect x="379" y="591" width="1" height="5" fill="#c0c0c0"/>
<rect x="387" y="588" width="1" height="8" fill="#c0c0c0"/>
<rect x="395" y="589" width="1" height="7" fill="#c0c0c0"/>
<rect x="403" y="582" width="1" height="14" fill="#c0c0c0"/>
<rect x="411" y="575" width="1" height="21" fill="#c0c0c0"/>
<rect x="419" y="570" width="1" height="26" fill="#c0c0c0"/>
<rect x="427" y="565" width="1" height="31" fill="#c0c0c0"/>
<rect x="435" y="559" width="1" height="37" fill="#c0c0c0"/>
<rect x="443" y="557" width="1" height="39" fill="#c0c0c0"/>
<rect x="451" y="564" width="1" height="32" fill="#c0c0c0"/>
<rect x="459" y="570" width="1" height="26" fill="#c0c0c0"/>
<rect x="467" y="576" width="1" height="20" fill="#c0c0c0"/>
<rect x="475" y="584" width="1" height="12" fill="#c0c0c0"/>
<rect x="483" y="592" width="1" height="4" fill="#c0c0c0"/>
<rect x="491" y="595" width="1" height="6" fill="#c0c0c0"/>
<rect x="499" y="595" width="1" height="21" fill="#c0c0c0"/>
<rect x="507" y="595" width="1" height="30" fill="#c0c0c0"/>
<rect x="515" y="595" width="1" height="37" fill="#c0c0c0"/>
<rect x="523" y="595" width="1" height="41" fill="#c0c0c0"/>
<rect x="531" y="595" width="1" height="43" fill="#c0c0c0"/>
<rect x="539" y="595" width="1" height="50" fill="#c0c0c0"/>
<rect x="547" y="595" width="1" height="53" fill="#c0c0c0"/>
<rect x="555" y="595" width="1" height="62" fill="#c0c0c0"/>
<rect x="563" y="595" width="1" height="68" fill="#c0c0c0"/>
<rect x="571" y="595" width="1" height="71" fill="#c0c0c0"/>
<rect x="579" y="595" width="1" height="74" fill="#c0c0c0"/>
<rect x="587" y="595" width="1" height="68" fill="#c0c0c0"/>
<rect x="595" y="595" width="1" height="56" fill="#c0c0c0"/>
<rect x="603" y="595" width="1" height="47" fill="#c0c0c0"/>
<rect x="611" y="595" width="1" height="40" fill="#c0c0c0"/>
<rect x="619" y="595" width="1" height="34" fill="#c0c0c0"/>
<rect x="627" y="595" width="1" height="28" fill="#c0c0c0"/>
<rect x="635" y="595" width="1" height="18" fill="#c0c0c0"/>
<rect x="643" y="595" width="1" height="10" fill="#c0c0c0"/>
<rect x="651" y="593" width="1" height="3" fill="#c0c0c0"/>
<rect x="659" y="580" width="1" height="16" fill="#c0c0c0"/>
<rect x="667" y="569" width="1" height="27" fill="#c0c0c0"/>
<rect x="675" y="560" width="1" height="36" fill="#c0c0c0"/>
<rect x="683" y="556" width="1" height="40" fill="#c0c0c0"/>
<rect x="691" y="553" width="1" height="43" fill="#c0c0c0"/>
<rect x="699" y="549" width="1" height="47" fill="#c0c0c0"/>
<rect x="707" y="548" width="1" height="48" fill="#c0c0c0"/>
<rect x="715" y="548" width="1" height="48" fill="#c0c0c0"/>
<rect x="723" y="549" width="1" height="47" fill="#c0c0c0"/>
<rect x="731" y="547" width="1" height="49" fill="#c0c0c0"/>
<rect x="739" y="549" width="1" height="47" fill="#c0c0c0"/>
<rect x="747" y="548" width="1" height="48" fill="#c0c0c0"/>
<rect x="755" y="548" width="1" height="48" fill="#c0c0c0"/>
<rect x="763" y="550" width="1" height="46" fill="#c0c0c0"/>
<rect x="771" y="553" width="1" height="43" fill="#c0c0c0"/>
<rect x="779" y="557" width="1" height="39" fill="#c0c0c0"/>
<rect x="787" y="562" width="1" height="34" fill="#c0c0c0"/>
<rect x="795" y="559" width="1" height="37" fill="#c0c0c0"/>
<rect x="803" y="556" width="1" height="40" fill="#c0c0c0"/>
<rect x="811" y="550" width="1" height="46" fill="#c0c0c0"/>
<rect x="819" y="546" width="1" height="50" fill="#c0c0c0"/>
<rect x="827" y="547" width="1" height="49" fill="#c0c0c0"/>
<rect x="835" y="545" width="1" height="51" fill="#c0c0c0"/>
<rect x="843" y="546" width="1" height="50" fill="#c0c0c0"/>
<rect x="851" y="550" width="1" height="46" fill="#c0c0c0"/>
<rect x="859" y="554" width="1" height="42" fill="#c0c0c0"/>
<rect x="867" y="557" width="1" height="39" fill="#c0c0c0"/>
<rect x="875" y="559" width="1" height="37" fill="#c0c0c0"/>
<rect x="883" y="558" width="1" height="38" fill="#c0c0c0"/>
<rect x="891" y="557" width="1" height="39" fill="#c0c0c0"/>
<rect x="899" y="560" width="1" height="36" fill="#c0c0c0"/>
<rect x="907" y="562" width="1" height="34" fill="#c0c0c0"/>
<rect x="915" y="564" width="1" height="32" fill="#c0c0c0"/>
<rect x="923" y="561" width="1" height="35" fill="#c0c0c0"/>
<rect x="931" y="555" width="1" height="41" fill="#c0c0c0"/>
<rect x="939" y="550" width="1" height="46" fill="#c0c0c0"/>
<rect x="947" y="550" width="1" height="46" fill="#c0c0c0"/>
<rect x="955" y="550" width="1" height="46" fill="#c0c0c0"/>
<rect x="963" y="550" width="1" height="46" fill="#c0c0c0"/>
<rect x="971" y="551" width="1" height="45" fill="#c0c0c0"/>
<rect x="979" y="552" width="1" height="44" fill="#c0c0c0"/>
<rect x="987" y="549" width="1" height="47" fill="#c0c0c0"/>
<rect x="995" y="547" width="1" height="49" fill="#c0c0c0"/>
<rect x="1003" y="545" width="1" height="51" fill="#c0c0c0"/>
<rect x="1011" y="543" width="1" height="53" fill="#c0c0c0"/>
<rect x="1019" y="540" width="1" height="56" fill="#c0c0c0"/>
<rect x="1027" y="539" width="1" height="57" fill="#c0c0c0"/>
<rect x="1035" y="541" width="1" height="55" fill="#c0c0c0"/>
<rect x="1043" y="543" width="1" height="53" fill="#c0c0c0"/>
<rect x="1051" y="545" width="1" height="51" fill="#c0c0c0"/>
<rect x="1059" y="547" width="1" height="49" fill="#c0c0c0"/>
<rect x="1067" y="550" width="1" height="46" fill="#c0c0c0"/>
<rect x="1075" y="550" width="1" height="46" fill="#c0c0c0"/>
<rect x="1083" y="551" width="1" height="45" fill="#c0c0c0"/>
<rect x="1091" y="550" width="1" height="46" fill="#c0c0c0"/>
<rect x="1099" y="549" width="1" height="47" fill="#c0c0c0"/>
<rect x="1107" y="549" width="1" height="47" fill="#c0c0c0"/>
<rect x="1115" y="547" width="1" height="49" fill="#c0c0c0"/>
<rect x="1123" y="550" width="1" height="46" fill="#c0c0c0"/>
<rect x="1131" y="552" width="1" height="44" fill="#c0c0c0"/>
<rect x="1139" y="553" width="1" height="43" fill="#c0c0c0"/>
<rect x="1147" y="556" width="1" height="40" fill="#c0c0c0"/>
<rect x="1155" y="559" width="1" height="37" fill="#c0c0c0"/>
<rect x="1163" y="562" width="1" height="34" fill="#c0c0c0"/>
<rect x="1171" y="569" width="1" height="27" fill="#c0c0c0"/>
<rect x="1179" y="573" width="1" height="23" fill="#c0c0c0"/>
<rect x="1187" y="577" width="1" height="19" fill="#c0c0c0"/>
<rect x="1195" y="573" width="1" height="23" fill="#c0c0c0"/>
<rect x="1203" y="567" width="1" height="29" fill="#c0c0c0"/>
<rect x="1211" y="564" width="1" height="32" fill="#c0c0c0"/>
<rect x="1219" y="558" width="1" height="38" fill="#c0c0c0"/>
<rect x="1227" y="555" width="1" height="41" fill="#c0c0c0"/>
<rect x="1235" y="553" width="1" height="43" fill="#c0c0c0"/>
<rect x="1243" y="557" width="1" height="39" fill="#c0c0c0"/>
<rect x="1251" y="562" width="1" height="34" fill="#c0c0c0"/>
<rect x="1259" y="564" width="1" height="32" fill="#c0c0c0"/>
<rect x="1267" y="568" width="1" height="28" fill="#c0c0c0"/>
<rect x="1275" y="570" width="1" height="26" fill="#c0c0c0"/>
<rect x="1283" y="570" width="1" height="26" fill="#c0c0c0"/>
<rect x="1291" y="568" width="1" height="28" fill="#c0c0c0"/>
<rect x="1299" y="568" width="1" height="28" fill="#c0c0c0"/>
<rect x="1307" y="568" width="1" height="28" fill="#c0c0c0"/>
<rect x="1315" y="570" width="1" height="26" fill="#c0c0c0"/>
<rect x="1323" y="569" width="1" height="27" fill="#c0c0c0"/>
<rect x="1331" y="568" width="1" height="28" fill="#c0c0c0"/>
<rect x="1339" y="564" width="1" height="32" fill="#c0c0c0"/>
<rect x="1347" y="562" width="1" height="34" fill="#c0c0c0"/>
<rect x="1355" y="561" width="1" height="35" fill="#c0c0c0"/>
<rect x="1363" y="559" width="1" height="37" fill="#c0c0c0"/>
<rect x="1371" y="557" width="1" height="39" fill="#c0c0c0"/>
<rect x="1379" y="554" width="1" height="42" fill="#c0c0c0"/>
<rect x="1387" y="553" width="1" height="43" fill="#c0c0c0"/>
<rect x="1395" y="551" width="1" height="45" fill="#c0c0c0"/>
<rect x="1403" y="553" width="1" height="43" fill="#c0c0c0"/>
<rect x="1411" y="556" width="1" height="40" fill="#c0c0c0"/>
<rect x="1419" y="558" width="1" height="38" fill="#c0c0c0"/>
<rect x="1427" y="559" width="1" height="37" fill="#c0c0c0"/>
<rect x="1435" y="556" width="1" height="40" fill="#c0c0c0"/>
<rect x="1443" y="554" width="1" height="42" fill="#c0c0c0"/>
<rect x="1451" y="550" width="1" height="46" fill="#c0c0c0"/>
<rect x="1459" y="547" width="1" height="49" fill="#c0c0c0"/>
<rect x="1467" y="542" width="1" height="54" fill="#c0c0c0"/>
<rect x="1475" y="541" width="1" height="55" fill="#c0c0c0"/>
<rect x="1483" y="541" width="1" height="55" fill="#c0c0c0"/>
<rect x="1491" y="539" width="1" height="57" fill="#c0c0c0"/>
<rect x="1499" y="546" width="1" height="50" fill="#c0c0c0"/>
<rect x="1507" y="552" width="1" height="44" fill="#c0c0c0"/>
<rect x="1515" y="557" width="1" height="39" fill="#c0c0c0"/>
<rect x="1523" y="560" width="1" height="36" fill="#c0c0c0"/>
<rect x="1531" y="562" width="1" height="34" fill="#c0c0c0"/>
<rect x="1539" y="575" width="1" height="21" fill="#c0c0c0"/>
<rect x="1547" y="581" width="1" height="15" fill="#c0c0c0"/>
<rect x="1555" y="589" width="1" height="7" fill="#c0c0c0"/>
<rect x="1563" y="595" width="1" height="1" fill="#c0c0c0"/>
<rect x="1571" y="595" width="1" height="8" fill="#c0c0c0"/>
<rect x="1579" y="595" width="1" height="13" fill="#c0c0c0"/>
<rect x="1587" y="595" width="1" height="8" fill="#c0c0c0"/>
<rect x="1595" y="595" width="1" height="7" fill="#c0c0c0"/>
<rect x="1603" y="595" width="1" height="6" fill="#c0c0c0"/>
<rect x="1611" y="594" width="1" height="2" fill="#c0c0c0"/>
<rect x="1619" y="594" width="1" height="2" fill="#c0c0c0"/>
<rect x="1627" y="592" width="1" height="4" fill="#c0c0c0"/>
<rect x="1635" y="591" width="1" height="5" fill="#c0c0c0"/>
<rect x="1643" y="582" width="1" height="14" fill="#c0c0c0"/>
<rect x="1651" y="572" width="1" height="24" fill="#c0c0c0"/>
<rect x="1659" y="565" width="1" height="31" fill="#c0c0c0"/>
<rect x="1667" y="561" width="1" height="35" fill="#c0c0c0"/>
<polyline points="3.0,544.2 11.5,541.2 19.5,539.5 27.5,539.2 35.5,538.7 43.5,540.0 51.5,542.5 59.5,546.2 67.5,551.7 75.5,556.9 83.5,560.7 91.5,565.7 99.5,569.9 107.5,574.2 115.5,578.1 123.5,581.1 131.5,584.9 139.5,586.1 147.5,587.4 155.5,588.1 163.5,588.1 171.5,589.1 179.5,589.9 187.5,591.6 195.5,593.6 203.5,595.4 211.5,596.6 219.5,597.6 227.5,598.1 235.5,597.4 243.5,595.6 251.5,593.6 259.5,592.4 267.5,587.9 275.5,584.9 283.5,582.4 291.5,581.1 299.5,581.1 307.5,582.4 315.5,586.9 323.5,591.9 331.5,596.6 339.5,602.4 347.5,606.8 355.5,609.8 363.5,611.1 371.5,611.1 379.5,609.1 387.5,606.1 395.5,602.4 403.5,599.1 411.5,593.6 419.5,589.4 427.5,584.4 435.5,577.9 443.5,574.2 451.5,571.7 459.5,569.9 467.5,566.9 475.5,568.2 483.5,570.7 491.5,574.4 499.5,579.9 507.5,586.1 515.5,594.1 523.5,602.4 531.5,610.3 539.5,618.1 547.5,625.6 555.5,632.8 563.5,639.8 571.5,646.0 579.5,650.3 587.5,653.5 595.5,655.0 603.5,655.3 611.5,654.3 619.5,651.5 627.5,648.0 635.5,644.0 643.5,637.3 651.5,627.8 659.5,618.6 667.5,609.1 675.5,599.9 683.5,591.9 691.5,583.6 699.5,574.2 707.5,567.4 715.5,561.2 723.5,556.2 731.5,552.4 739.5,550.4 747.5,549.2 755.5,548.7 763.5,548.7 771.5,548.7 779.5,549.4 787.5,550.7 795.5,551.9 803.5,553.2 811.5,553.2 819.5,552.4 827.5,552.4 835.5,552.4 843.5,551.2 851.5,550.4 859.5,549.4 867.5,549.4 875.5,549.4 883.5,550.4 891.5,552.4 899.5,553.7 907.5,554.9 915.5,557.4 923.5,558.7 931.5,558.7 939.5,557.4 947.5,556.7 955.5,556.7 963.5,555.4 971.5,554.2 979.5,552.9 987.5,551.9 995.5,549.2 1003.5,548.7 1011.5,548.2 1019.5,546.2 1027.5,545.7 1035.5,544.2 1043.5,543.7 1051.5,543.7 1059.5,542.5 1067.5,543.2 1075.5,543.2 1083.5,544.2 1091.5,545.0 1099.5,546.2 1107.5,547.0 1115.5,548.2 1123.5,548.7 1131.5,549.2 1139.5,549.4 1147.5,550.4 1155.5,551.7 1163.5,552.4 1171.5,554.2 1179.5,556.9 1187.5,560.4 1195.5,562.9 1203.5,564.2 1211.5,565.7 1219.5,566.7 1227.5,566.7 1235.5,565.7 1243.5,564.2 1251.5,561.9 1259.5,560.4 1267.5,560.4 1275.5,560.4 1283.5,560.7 1291.5,562.4 1299.5,563.2 1307.5,565.7 1315.5,566.7 1323.5,567.4 1331.5,567.9 1339.5,567.4 1347.5,566.9 1355.5,566.2 1363.5,564.9 1371.5,563.7 1379.5,562.4 1387.5,559.9 1395.5,558.7 1403.5,556.2 1411.5,555.7 1419.5,555.7 1427.5,555.4 1435.5,554.4 1443.5,554.2 1451.5,553.7 1459.5,553.2 1467.5,551.9 1475.5,549.9 1483.5,549.2 1491.5,548.0 1499.5,545.5 1507.5,545.5 1515.5,545.5 1523.5,546.2 1531.5,547.5 1539.5,551.2 1547.5,556.2 1555.5,562.4 1563.5,568.2 1571.5,573.2 1579.5,579.1 1587.5,585.4 1595.5,589.9 1603.5,595.6 1611.5,597.9 1619.5,599.1 1627.5,599.4 1635.5,599.1 1643.5,596.1 1651.5,593.1 1659.5,588.1 1667.5,584.4" fill="none" stroke="#ff0000" stroke-width="1" stroke-dasharray="2.5 2.5"/>
<line x1="4" y1="721.5" x2="1688" y2="721.5" stroke="#c0c0c0" stroke-width="1" stroke-dasharray="3 3"/>
<line x1="4" y1="777.5" x2="1688" y2="777.5" stroke="#c0c0c0" stroke-width="1" stroke-dasharray="3 3"/>
<polyline points="3.0,723.2 11.5,741.2 19.5,745.4 27.5,736.7 35.5,733.7 43.5,745.4 51.5,746.9 59.5,752.4 67.5,751.6 75.5,748.6 83.5,754.4 91.5,757.4 99.5,749.4 107.5,751.1 115.5,751.1 123.5,741.7 131.5,746.2 139.5,744.4 147.5,741.7 155.5,752.4 163.5,753.6 171.5,750.4 179.5,759.1 187.5,761.1 195.5,767.4 203.5,748.1 211.5,742.4 219.5,740.7 227.5,747.4 235.5,736.9 243.5,733.4 251.5,734.4 259.5,740.4 267.5,742.4 275.5,746.9 283.5,755.4 291.5,756.9 299.5,766.1 307.5,768.6 315.5,767.6 323.5,769.6 331.5,766.6 339.5,751.1 347.5,744.2 355.5,741.2 363.5,739.4 371.5,738.4 379.5,740.7 387.5,739.4 395.5,747.4 403.5,734.2 411.5,730.7 419.5,730.2 427.5,727.9 435.5,725.7 443.5,729.9 451.5,750.4 459.5,749.4 467.5,754.4 475.5,760.4 483.5,762.4 491.5,767.4 499.5,777.3 507.5,772.4 515.5,772.4 523.5,770.4 531.5,767.4 539.5,777.3 547.5,768.6 555.5,777.3 563.5,775.4 571.5,774.4 579.5,777.3 587.5,756.9 595.5,747.4 603.5,749.4 611.5,748.4 619.5,751.4 627.5,747.4 635.5,740.7 643.5,739.4 651.5,731.2 659.5,726.7 667.5,726.7 675.5,725.4 683.5,731.4 691.5,731.2 699.5,727.4 707.5,732.4 715.5,732.4 723.5,733.7 731.5,729.2 739.5,736.4 747.5,731.4 755.5,732.4 763.5,733.7 771.5,739.4 779.5,741.4 787.5,745.4 795.5,730.4 803.5,728.7 811.5,722.4 819.5,725.7 827.5,732.4 835.5,727.4 843.5,735.7 851.5,740.4 859.5,740.4 867.5,741.7 875.5,738.2 883.5,732.4 891.5,731.4 899.5,740.4 907.5,739.4 915.5,738.4 923.5,728.7 931.5,722.4 939.5,720.2 947.5,731.4 955.5,730.4 963.5,730.4 971.5,732.4 979.5,730.4 987.5,723.2 995.5,721.2 1003.5,719.2 1011.5,720.4 1019.5,714.5 1027.5,721.2 1035.5,729.9 1043.5,732.4 1051.5,728.4 1059.5,732.4 1067.5,732.4 1075.5,727.4 1083.5,729.4 1091.5,724.9 1099.5,723.2 1107.5,722.4 1115.5,718.2 1123.5,732.4 1131.5,733.7 1139.5,729.4 1147.5,735.4 1155.5,736.4 1163.5,740.4 1171.5,753.4 1179.5,749.4 1187.5,752.4 1195.5,729.9 1203.5,724.4 1211.5,730.4 1219.5,724.4 1227.5,727.4 1235.5,727.4 1243.5,742.4 1251.5,743.4 1259.5,742.4 1267.5,747.4 1275.5,742.4 1283.5,738.4 1291.5,733.9 1299.5,736.4 1307.5,736.4 1315.5,742.4 1323.5,734.4 1331.5,733.4 1339.5,726.4 1347.5,729.4 1355.5,729.4 1363.5,727.4 1371.5,723.2 1379.5,720.4 1387.5,725.4 1395.5,723.4 1403.5,734.4 1411.5,735.4 1419.5,734.4 1427.5,732.4 1435.5,721.4 1443.5,727.4 1451.5,719.2 1459.5,717.5 1467.5,714.5 1475.5,722.4 1483.5,726.4 1491.5,721.4 1499.5,742.4 1507.5,748.4 1515.5,743.4 1523.5,741.4 1531.5,740.4 1539.5,763.4 1547.5,754.4 1555.5,759.4 1563.5,764.4 1571.5,759.4 1579.5,762.4 1587.5,744.4 1595.5,748.4 1603.5,750.4 1611.5,745.4 1619.5,742.4 1627.5,744.4 1635.5,747.4 1643.5,733.4 1651.5,729.4 1659.5,732.4 1667.5,732.4" fill="none" stroke="#1e90ff" stroke-width="1"/>
<rect x="1689" y="22" width="2" height="1" fill="#000"/>
<rect x="1689" y="55" width="2" height="1" fill="#000"/>
<rect x="1689" y="88" width="2" height="1" fill="#000"/>
<rect x="1689" y="121" width="2" height="1" fill="#000"/>
<rect x="1689" y="154" width="2" height="1" fill="#000"/>
<rect x="1689" y="187" width="2" height="1" fill="#000"/>
<rect x="1689" y="220" width="2" height="1" fill="#000"/>
<rect x="1689" y="253" width="2" height="1" fill="#000"/>
<rect x="1689" y="286" width="2" height="1" fill="#000"/>
<rect x="1689" y="319" width="2" height="1" fill="#000"/>
<rect x="1689" y="352" width="2" height="1" fill="#000"/>
<rect x="1689" y="385" width="2" height="1" fill="#000"/>
<rect x="1689" y="418" width="2" height="1" fill="#000"/>
<rect x="1689" y="451" width="2" height="1" fill="#000"/>
<rect x="1689" y="484" width="2" height="1" fill="#000"/>
<rect x="1689" y="517" width="2" height="1" fill="#000"/>
<rect x="3" y="820" width="1" height="3" fill="#000"/>
<rect x="67" y="820" width="1" height="3" fill="#000"/>
<rect x="131" y="820" width="1" height="3" fill="#000"/>
<rect x="195" y="820" width="1" height="3" fill="#000"/>
<rect x="259" y="820" width="1" height="3" fill="#000"/>
<rect x="323" y="820" width="1" height="3" fill="#000"/>
<rect x="387" y="820" width="1" height="3" fill="#000"/>
<rect x="451" y="820" width="1" height="3" fill="#000"/>
<rect x="515" y="820" width="1" height="3" fill="#000"/>
<rect x="579" y="820" width="1" height="3" fill="#000"/>
<rect x="643" y="820" width="1" height="3" fill="#000"/>
<rect x="707" y="820" width="1" height="3" fill="#000"/>
<rect x="771" y="820" width="1" height="3" fill="#000"/>
<rect x="835" y="820" width="1" height="3" fill="#000"/>
<rect x="899" y="820" width="1" height="3" fill="#000"/>
<rect x="963" y="820" width="1" height="3" fill="#000"/>
<rect x="1027" y="820" width="1" height="3" fill="#000"/>
<rect x="1091" y="820" width="1" height="3" fill="#000"/>
<rect x="1155" y="820" width="1" height="3" fill="#000"/>
<rect x="1219" y="820" width="1" height="3" fill="#000"/>
<rect x="1283" y="820" width="1" height="3" fill="#000"/>
<rect x="1347" y="820" width="1" height="3" fill="#000"/>
<rect x="1411" y="820" width="1" height="3" fill="#000"/>
<rect x="1475" y="820" width="1" height="3" fill="#000"/>
<rect x="1539" y="820" width="1" height="3" fill="#000"/>
<rect x="1603" y="820" width="1" height="3" fill="#000"/>
<rect x="1667" y="820" width="1" height="3" fill="#000"/>
<rect x="1689" y="524" width="1" height="1" fill="#000"/>
<rect x="1689" y="675" width="1" height="1" fill="#000"/>
<rect x="1689" y="680" width="1" height="1" fill="#000"/>
<rect x="1689" y="818" width="1" height="1" fill="#000"/>
<polygon points="6,10 13,10 9.5,14" fill="#000" shape-rendering="geometricPrecision"/></svg>
<svg width="1723" height="841" viewBox="0 0 1723 841" style="position:absolute;left:0;top:0" fill="none" stroke="#e8121b" stroke-width="48" stroke-linecap="butt" stroke-linejoin="miter" stroke-miterlimit="1.5">
<g transform="translate(1276,384) scale(0.0547)">
<path d="M410,115 Q300,230 145,310"/>
<path d="M345,200 H665 Q540,380 120,465"/>
<path d="M310,285 L385,355"/>
<path d="M515,380 Q380,500 160,590"/>
<path d="M465,440 H700 Q600,640 135,730"/>
<path d="M380,555 L445,625"/>
<path d="M1050,120 L1100,190"/>
<path d="M810,325 V215 H1345 V325"/>
<path d="M1005,285 Q900,380 775,450"/>
<path d="M1145,285 Q1260,370 1380,450"/>
<path d="M850,475 H1310"/>
<path d="M1080,475 V690"/>
<path d="M785,690 H1370"/>
</g>
<g transform="translate(1350,384) scale(0.0547)">
<path d="M75,237 H340"/>
<path d="M210,115 L95,440 H340"/>
<path d="M232,300 V745"/>
<path d="M70,600 L350,558"/>
<path d="M370,237 H675"/>
<path d="M345,365 H700"/>
<path d="M500,115 L400,490 H665 L535,655"/>
<path d="M395,578 L612,730"/>
<path d="M735,268 H945"/>
<path d="M842,125 V680 Q842,715 800,715 L735,705"/>
<path d="M725,480 L935,415"/>
<path d="M1330,160 L1000,195"/>
<path d="M1010,185 V430 Q1010,620 920,735"/>
<path d="M1010,383 H1355"/>
<path d="M1215,383 V745"/>
</g>
<g transform="translate(1420,384) scale(0.0547)">
<path d="M412,110 V335"/>
<path d="M412,210 H728"/>
<path d="M208,560 V335 H635 V560"/>
<path d="M208,495 H635"/>
<path d="M205,592 L125,732"/>
<path d="M315,588 L362,722"/>
<path d="M470,583 L528,716"/>
<path d="M628,590 L712,736"/>
<path d="M785,190 H1088 Q930,440 890,660" stroke-miterlimit="5"/>
<path d="M1195,275 C1215,200 1270,170 1325,170 C1400,170 1450,215 1450,290 C1450,360 1400,410 1330,470 C1250,535 1195,590 1185,640 H1490" stroke-miterlimit="2.6"/>
</g>
</svg>

<div class="t " style="left:1694px;top:18px;">73.400</div><div class="t " style="left:1694px;top:51px;">72.600</div><div class="t " style="left:1694px;top:84px;">71.780</div><div class="t " style="left:1694px;top:117px;">70.980</div><div class="t " style="left:1694px;top:150px;">70.180</div><div class="t " style="left:1694px;top:183px;">69.360</div><div class="t " style="left:1694px;top:216px;">68.560</div><div class="t " style="left:1694px;top:249px;">67.760</div><div class="t " style="left:1694px;top:282px;">66.940</div><div class="t " style="left:1694px;top:315px;">66.140</div><div class="t " style="left:1694px;top:348px;">65.340</div><div class="t " style="left:1694px;top:381px;">64.520</div><div class="t " style="left:1694px;top:414px;">63.720</div><div class="t " style="left:1694px;top:447px;">62.920</div><div class="t " style="left:1694px;top:480px;">62.100</div><div class="t " style="left:1694px;top:513px;">61.300</div><div class="b" style="top:155px;height:11px;line-height:14.5px;background:#4169e1;color:#fff">70.000</div><div class="b" style="top:217px;height:11px;line-height:14.5px;background:#4169e1;color:#fff">68.500</div><div class="b" style="top:298px;height:11px;line-height:14.5px;background:#4169e1;color:#fff">66.500</div><div class="b" style="top:73px;height:11px;line-height:14.5px;background:#32cd32;color:#fff">72.000</div><div class="b" style="top:37px;height:11px;line-height:14.5px;background:#000;color:#fff">72.910</div><div class="t w" style="left:18px;top:7px;">USOil-,H4&nbsp; 72.920 72.970 72.890 72.910</div><div class="t w" style="left:7.5px;top:527px;">MACD(12,26,9) 0.3964 0.1300</div><div class="t w" style="left:7.5px;top:683px;">RSI(14) 62.0791</div><div class="t " style="left:1692px;top:525px;">0.8095</div><div class="t " style="left:1692px;top:591px;">0.00</div><div class="t " style="left:1692px;top:665px;">-0.9226</div><div class="t " style="left:1692px;top:681px;">100</div><div class="t " style="left:1692px;top:717px;">70</div><div class="t " style="left:1692px;top:773px;">30</div><div class="t " style="left:1692px;top:808px;">0</div><div class="t tm" style="left:3px;top:824px;">5 May 2021</div><div class="t tm" style="left:67px;top:824px;">6 May 20:00</div><div class="t tm" style="left:131px;top:824px;">10 May 00:00</div><div class="t tm" style="left:195px;top:824px;">11 May 08:00</div><div class="t tm" style="left:259px;top:824px;">12 May 16:00</div><div class="t tm" style="left:323px;top:824px;">14 May 00:00</div><div class="t tm" style="left:387px;top:824px;">17 May 04:00</div><div class="t tm" style="left:451px;top:824px;">18 May 12:00</div><div class="t tm" style="left:515px;top:824px;">19 May 20:00</div><div class="t tm" style="left:579px;top:824px;">21 May 04:00</div><div class="t tm" style="left:643px;top:824px;">24 May 08:00</div><div class="t tm" style="left:707px;top:824px;">25 May 16:00</div><div class="t tm" style="left:771px;top:824px;">27 May 00:00</div><div class="t tm" style="left:835px;top:824px;">28 May 08:00</div><div class="t tm" style="left:899px;top:824px;">31 May 12:00</div><div class="t tm" style="left:963px;top:824px;">1 Jun 20:00</div><div class="t tm" style="left:1027px;top:824px;">3 Jun 04:00</div><div class="t tm" style="left:1091px;top:824px;">4 Jun 12:00</div><div class="t tm" style="left:1155px;top:824px;">7 Jun 16:00</div><div class="t tm" style="left:1219px;top:824px;">9 Jun 00:00</div><div class="t tm" style="left:1283px;top:824px;">10 Jun 08:00</div><div class="t tm" style="left:1347px;top:824px;">11 Jun 16:00</div><div class="t tm" style="left:1411px;top:824px;">14 Jun 20:00</div><div class="t tm" style="left:1475px;top:824px;">16 Jun 04:00</div><div class="t tm" style="left:1539px;top:824px;">17 Jun 12:00</div><div class="t tm" style="left:1603px;top:824px;">18 Jun 20:00</div><div class="t tm" style="left:1667px;top:824px;">21 Jun 22:00</div>
</body></html>
